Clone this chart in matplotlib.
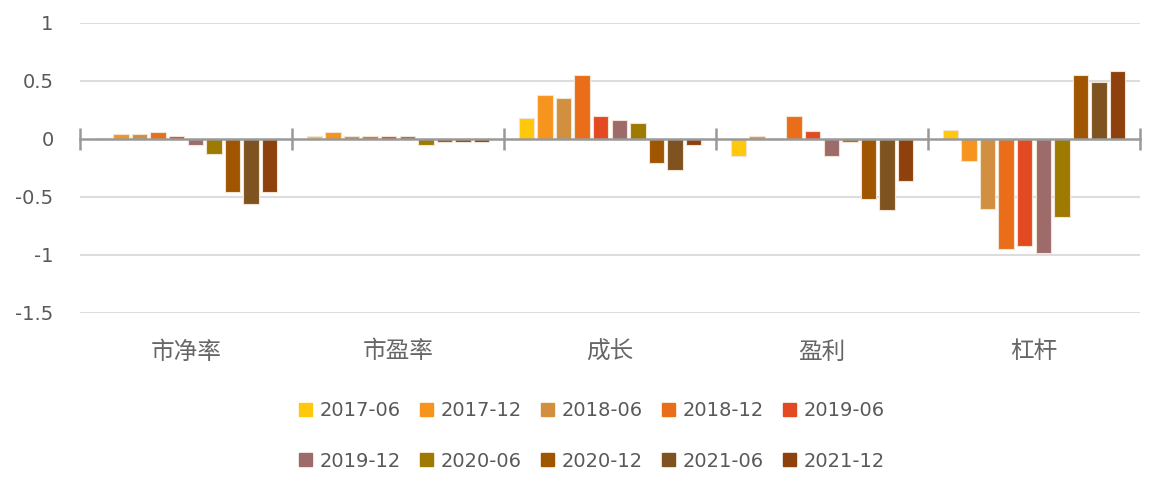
import numpy as np
import matplotlib.pyplot as plt
from matplotlib.patches import Patch

plt.rcParams['font.family'] = ['DejaVu Sans', 'Noto Sans CJK SC']

categories = ['市净率', '市盈率', '成长', '盈利', '杠杆']
periods = ['2017-06', '2017-12', '2018-06', '2018-12', '2019-06',
           '2019-12', '2020-06', '2020-12', '2021-06', '2021-12']
colors = ['#FFC80A', '#F7941D', '#D18F3F', '#EA6E1A', '#E34A22',
          '#9E6B6B', '#9E7A00', '#A05500', '#7F5320', '#8E410D']

# rows: periods, columns: categories
values = np.array([
    [0.005, 0.025, 0.18, -0.15, 0.08],
    [0.045, 0.06, 0.375, 0.025, -0.19],
    [0.045, 0.025, 0.355, 0.008, -0.60],
    [0.06, 0.025, 0.55, 0.20, -0.945],
    [0.025, 0.025, 0.20, 0.065, -0.925],
    [-0.05, 0.025, 0.16, -0.15, -0.98],
    [-0.13, -0.05, 0.14, -0.03, -0.67],
    [-0.46, -0.03, -0.21, -0.52, 0.55],
    [-0.56, -0.03, -0.265, -0.615, 0.49],
    [-0.46, -0.03, -0.05, -0.365, 0.585],
])

fig = plt.figure(figsize=(11.61, 4.86), dpi=100)
ax = fig.add_axes([80 / 1161, 1 - 313 / 486, 1060 / 1161, 290 / 486])

x = np.arange(len(categories))
step = 0.0877
width = 0.073
for i, p in enumerate(periods):
    ax.bar(x + (i - 4.5) * step, values[i], width, color=colors[i],
           edgecolor='#F3E3D3', linewidth=0.8, zorder=3)

ax.set_xlim(-0.5, 4.5)
ax.set_ylim(-1.5, 1)
ax.set_yticks([1, 0.5, 0, -0.5, -1, -1.5])
ax.set_yticklabels(['1', '0.5', '0', '-0.5', '-1', '-1.5'])
for yv in [1, 0.5, -0.5, -1, -1.5]:
    ax.axhline(yv, color='#DDDDDD', lw=1.5, zorder=1)
ax.tick_params(axis='y', length=0, pad=19, labelsize=14, labelcolor='#595959')

for s in ['top', 'right', 'left']:
    ax.spines[s].set_visible(False)
ax.spines['bottom'].set_position(('data', 0))
ax.spines['bottom'].set_color('#999999')
ax.spines['bottom'].set_linewidth(1.8)
ax.spines['bottom'].set_zorder(4)
ax.set_xticks(np.arange(-0.5, 5, 1))
ax.set_xticklabels([])
ax.tick_params(axis='x', direction='inout', length=16, width=1.8, color='#999999')

for xi, c in zip(x, categories):
    ax.text(xi, -1.5 - 39 / 116, c, ha='center', va='center', fontsize=17,
            color='#666666', fontweight='light',
            family=['Noto Sans CJK SC', 'DejaVu Sans'])

handles = [Patch(color=c) for c in colors]
order = [0, 5, 1, 6, 2, 7, 3, 8, 4, 9]
fig.legend([handles[k] for k in order], [periods[k] for k in order],
           ncol=5, loc='center', bbox_to_anchor=(592 / 1161, 1 - 436 / 486),
           frameon=False, fontsize=14, labelcolor='#595959',
           handlelength=0.65, handleheight=0.65, handletextpad=0.4,
           columnspacing=1.0, labelspacing=1.6)

fig.savefig('out.png', dpi=100)
